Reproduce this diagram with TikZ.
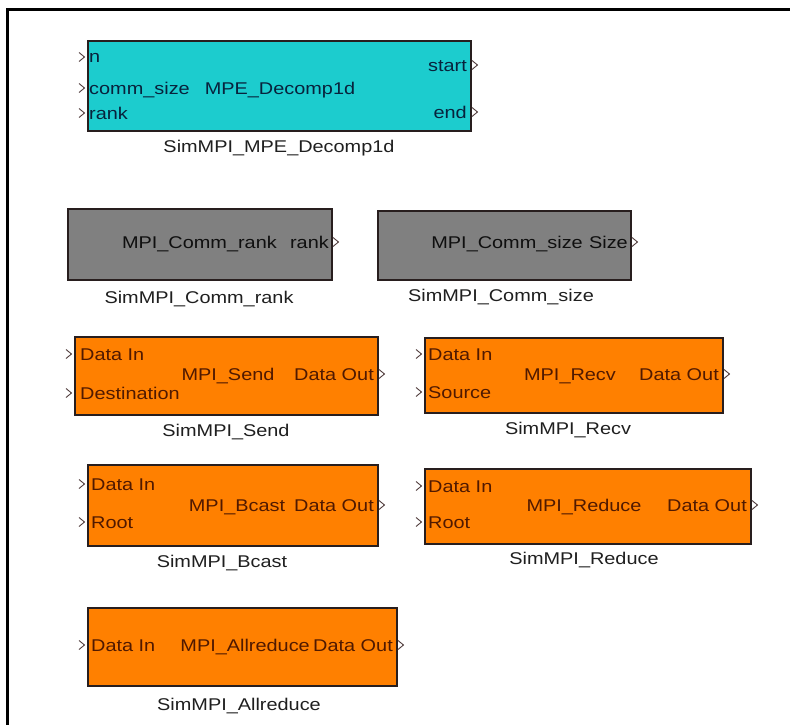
\documentclass[tikz,border=0pt]{standalone}
\usepackage{fontspec}
\setmainfont{Liberation Sans}[FakeStretch=1.17]
\usetikzlibrary{calc}
\definecolor{cyanfill}{RGB}{28,204,206}
\definecolor{orangefill}{RGB}{255,128,0}
\definecolor{grayfill}{RGB}{128,128,128}
\definecolor{edgec}{RGB}{40,30,30}
\definecolor{cyantext}{RGB}{8,34,60}
\definecolor{orangetext}{RGB}{80,25,0}
\definecolor{graytext}{RGB}{15,15,15}
\definecolor{portc}{RGB}{80,60,60}
\begin{document}
\begin{tikzpicture}[x=1pt,y=-1pt,
  blk/.style={draw=edgec, line width=1.6pt, inner sep=0pt, anchor=north west},
  txt/.style={inner sep=0pt, text height=12pt, text depth=0pt, font=\fontsize{17}{19}\selectfont},
  lbl/.style={txt, text=black!88},
  inport/.pic={\draw[portc, line width=0.9pt] (-8,-4.5) -- (-2.5,0) -- (-8,4.5);},
  outport/.pic={\draw[portc, line width=0.9pt] (2,-4.5) -- (7.5,0) -- (2,4.5);}
]
\useasboundingbox (0,0) rectangle (790,725);
% frame
\coordinate (fa) at (7,725);
\coordinate (fb) at (7,10);
\coordinate (fc) at (790,10);
\draw[line width=3pt, line join=miter] (fa) -- (fb) -- (fc);

% ---- MPE_Decomp1d (cyan)
\node[blk, fill=cyanfill, minimum width=383pt, minimum height=90pt] (dec) at (87,40) {};
\pic at (87,57) {inport};
\pic at (87,88) {inport};
\pic at (87,113) {inport};
\pic at (470,65) {outport};
\pic at (470,112) {outport};
\node[txt, text=cyantext, anchor=west] (dec-n) at (89,57) {n};
\node[txt, text=cyantext, anchor=west] (dec-cs) at (89,88) {comm\_size};
\node[txt, text=cyantext] (dec-t) at (280,88) {MPE\_Decomp1d};
\node[txt, text=cyantext, anchor=west] (dec-r) at (89,113) {rank};
\node[txt, text=cyantext, anchor=east] (dec-s) at (467,65) {start};
\node[txt, text=cyantext, anchor=east] (dec-e) at (467,112) {end};
\node[lbl] (dec-l) at (279,146) {SimMPI\_MPE\_Decomp1d};

% ---- Comm_rank (gray)
\node[blk, fill=grayfill, minimum width=264pt, minimum height=71pt] (crk) at (67,208) {};
\pic at (331,242) {outport};
\node[txt, text=graytext, anchor=east] (crk-t) at (277,242) {MPI\_Comm\_rank};
\node[txt, text=graytext, anchor=east] (crk-o) at (329,242) {rank};
\node[lbl] (crk-l) at (199,297) {SimMPI\_Comm\_rank};

% ---- Comm_size (gray)
\node[blk, fill=grayfill, minimum width=253pt, minimum height=69pt] (csz) at (377,210) {};
\pic at (630,242) {outport};
\node[txt, text=graytext, anchor=east] (csz-t) at (583,242) {MPI\_Comm\_size};
\node[txt, text=graytext, anchor=east] (csz-o) at (628,242) {Size};
\node[lbl] (csz-l) at (501,295) {SimMPI\_Comm\_size};

% ---- Send
\node[blk, fill=orangefill, minimum width=303pt, minimum height=78pt] (snd) at (74,336) {};
\pic at (74,354) {inport};
\pic at (74,393) {inport};
\pic at (377,374) {outport};
\node[txt, text=orangetext, anchor=west] (snd-i) at (80,354) {Data In};
\node[txt, text=orangetext, anchor=west] (snd-d) at (80,393) {Destination};
\node[txt, text=orangetext] (snd-t) at (228,374) {MPI\_Send};
\node[txt, text=orangetext, anchor=east] (snd-o) at (374,374) {Data Out};
\node[lbl] (snd-l) at (226,430) {SimMPI\_Send};

% ---- Recv
\node[blk, fill=orangefill, minimum width=298pt, minimum height=75pt] (rcv) at (424,337) {};
\pic at (424,354) {inport};
\pic at (424,392) {inport};
\pic at (722,374) {outport};
\node[txt, text=orangetext, anchor=west] (rcv-i) at (428,354) {Data In};
\node[txt, text=orangetext, anchor=west] (rcv-s) at (428,392) {Source};
\node[txt, text=orangetext] (rcv-t) at (570,374) {MPI\_Recv};
\node[txt, text=orangetext, anchor=east] (rcv-o) at (719,374) {Data Out};
\node[lbl] (rcv-l) at (568,428) {SimMPI\_Recv};

% ---- Bcast
\node[blk, fill=orangefill, minimum width=290pt, minimum height=81pt] (bc) at (87,464) {};
\pic at (87,484) {inport};
\pic at (87,522) {inport};
\pic at (377,505) {outport};
\node[txt, text=orangetext, anchor=west] (bc-i) at (91,484) {Data In};
\node[txt, text=orangetext, anchor=west] (bc-r) at (91,522) {Root};
\node[txt, text=orangetext] (bc-t) at (237,505) {MPI\_Bcast};
\node[txt, text=orangetext, anchor=east] (bc-o) at (374,505) {Data Out};
\node[lbl] (bc-l) at (222,561) {SimMPI\_Bcast};

% ---- Reduce
\node[blk, fill=orangefill, minimum width=326pt, minimum height=75pt] (rd) at (424,468) {};
\pic at (424,486) {inport};
\pic at (424,522) {inport};
\pic at (750,505) {outport};
\node[txt, text=orangetext, anchor=west] (rd-i) at (428,486) {Data In};
\node[txt, text=orangetext, anchor=west] (rd-r) at (428,522) {Root};
\node[txt, text=orangetext] (rd-t) at (584,505) {MPI\_Reduce};
\node[txt, text=orangetext, anchor=east] (rd-o) at (747,505) {Data Out};
\node[lbl] (rd-l) at (584,558) {SimMPI\_Reduce};

% ---- Allreduce
\node[blk, fill=orangefill, minimum width=309pt, minimum height=78pt] (ar) at (87,607) {};
\pic at (87,645) {inport};
\pic at (396,645) {outport};
\node[txt, text=orangetext, anchor=west] (ar-i) at (91,645) {Data In};
\node[txt, text=orangetext, anchor=east] (ar-t) at (310,645) {MPI\_Allreduce};
\node[txt, text=orangetext, anchor=east] (ar-o) at (393,645) {Data Out};
\node[lbl] (ar-l) at (239,704) {SimMPI\_Allreduce};
\end{tikzpicture}
\end{document}
